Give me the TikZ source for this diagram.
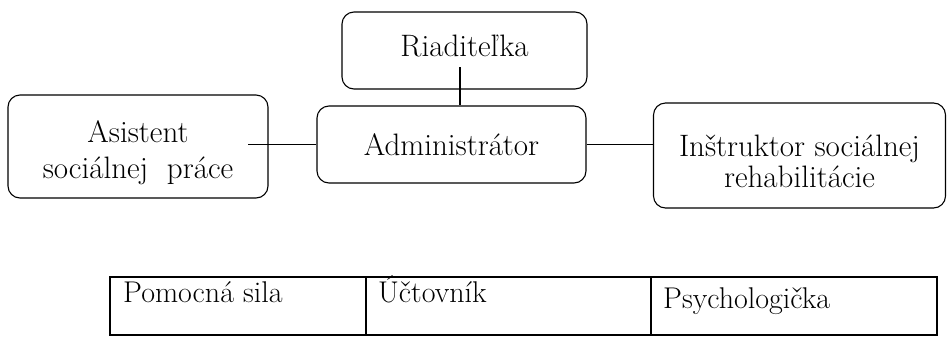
\documentclass[tikz,border=0pt]{standalone}
\usepackage{fontspec}
\begin{document}
\begin{tikzpicture}[x=1pt,y=-1pt,
  box/.style={draw, rounded corners=12pt, line width=1.1pt, align=center,
    font=\fontsize{31}{36}\selectfont, inner sep=0pt},
  cellbox/.style={draw, line width=1.1pt, inner sep=0pt, minimum height=58pt},
  celltext/.style={font=\fontsize{30}{36}\selectfont, anchor=base west, inner sep=0pt},
  conn/.style={line width=1.1pt}]
\useasboundingbox (0,0) rectangle (947,338);
% boxes
\node[box, minimum width=245pt, minimum height=77pt, text depth=10pt] (riad) at (464.5,50.5) {Riaditeľka};
\node[box, minimum width=269pt, minimum height=77pt] (admin) at (451.5,144.5) {Administrátor};
\node[box, minimum width=260pt, minimum height=103pt] (asist) at (138,146.5) {\rule{0pt}{33.5pt}Asistent\\sociálnej\ \ práce};
\node[box, minimum width=292pt, minimum height=105pt, font=\fontsize{31}{31}\selectfont] (instr) at (799.5,155.5) {\rule{0pt}{33.5pt}Inštruktor sociálnej\\rehabilitácie};
% connectors
\coordinate (rl) at (460,67);
\draw[conn] (rl) -- (rl |- admin.north);
\coordinate (al) at (248,144.5);
\draw[conn] (al) -- (admin.west);
\draw[conn] (admin.east) -- (admin.east -| instr.west);
% table
\node[cellbox, minimum width=256pt] (c1) at (238,306) {};
\node[cellbox, minimum width=285pt] (c2) at (508.5,306) {};
\node[cellbox, minimum width=286pt] (c3) at (794,306) {};
\node[celltext] (t1) at (123,302) {Pomocná sila};
\node[celltext] (t2) at (378,302) {Účtovník};
\node[celltext] (t3) at (663,308) {Psychologička};
\end{tikzpicture}
\end{document}
